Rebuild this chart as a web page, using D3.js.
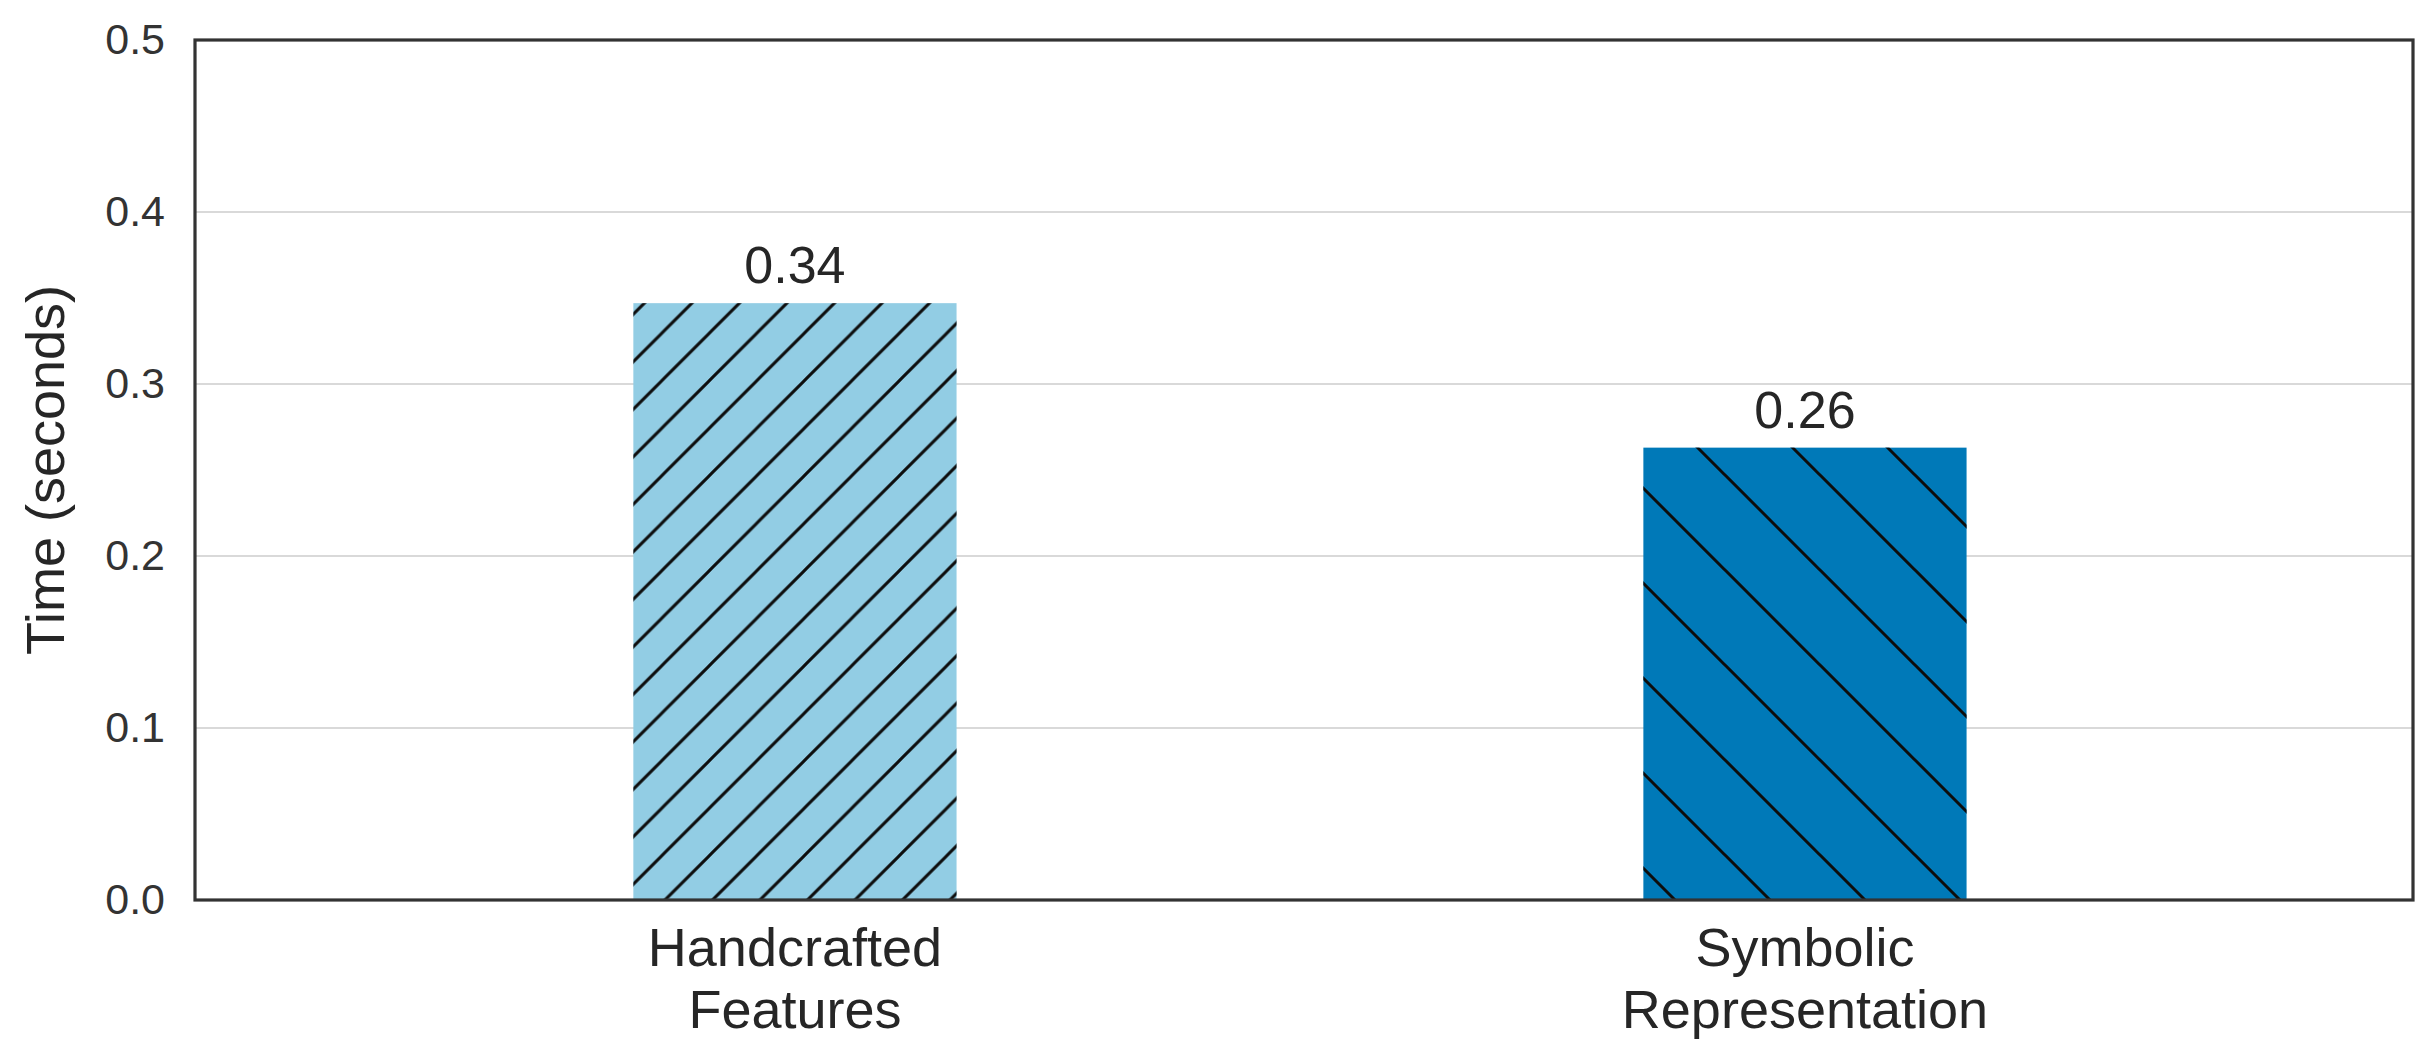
<!DOCTYPE html>
<html><head><meta charset="utf-8">
<script src="https://cdn.jsdelivr.net/npm/d3@7"></script>
<style>body{margin:0;background:#fff;} svg{display:block;font-family:"Liberation Sans",Arial,sans-serif;}</style>
</head><body>
<script>
const categories = [["Handcrafted","Features"],["Symbolic","Representation"]];
const values = [0.347, 0.263];
const valueLabels = ["0.34", "0.26"];
const yTicks = [0.0, 0.1, 0.2, 0.3, 0.4, 0.5];
const colors = ["#92cde4", "#0079b8"];

const W = 2431, H = 1055;
const m = {left:195, right:2413, top:40, bottom:900};
const svg = d3.select("body").append("svg").attr("width",W).attr("height",H);

const x = d3.scaleLinear().domain([-0.594,1.602]).range([m.left,m.right]);
const y = d3.scaleLinear().domain([0,0.5]).range([m.bottom,m.top]);
const barW = 0.32;

const defs = svg.append("defs");
// hatch patterns
const s1 = 47.5;
defs.append("pattern").attr("id","h0").attr("patternUnits","userSpaceOnUse")
  .attr("width",s1).attr("height",s1).attr("x",45)
  .append("path").attr("d",`M-2,2 L2,-2 M0,${s1} L${s1},0 M${s1-2},${s1+2} L${s1+2},${s1-2}`)
  .attr("stroke","#0d0d0d").attr("stroke-width",3);
const s2 = 95;
defs.append("pattern").attr("id","h1").attr("patternUnits","userSpaceOnUse")
  .attr("width",s2).attr("height",s2).attr("x",15)
  .append("path").attr("d",`M-2,-2 L${s2+2},${s2+2} M${s2-2},-2 L${s2+2},2 M-2,${s2-2} L2,${s2+2}`)
  .attr("stroke","#0d0d0d").attr("stroke-width",3);

// gridlines
svg.append("g").selectAll("line").data(yTicks.slice(1,-1)).join("line")
  .attr("x1",m.left).attr("x2",m.right)
  .attr("y1",d=>y(d)).attr("y2",d=>y(d))
  .attr("stroke","#d9d9d9").attr("stroke-width",2);

// bars
const bars = svg.append("g");
values.forEach((v,i)=>{
  const x0 = x(i-barW/2), x1 = x(i+barW/2);
  bars.append("rect").attr("x",x0).attr("y",y(v)).attr("width",x1-x0).attr("height",y(0)-y(v))
    .attr("fill",colors[i]);
  bars.append("rect").attr("x",x0).attr("y",y(v)).attr("width",x1-x0).attr("height",y(0)-y(v))
    .attr("fill",`url(#h${i})`);
  svg.append("text").attr("x",x(i)).attr("y",y(v)-20).attr("text-anchor","middle")
    .attr("font-size",52).attr("fill","#262626").text(valueLabels[i]);
});

// frame
svg.append("rect").attr("x",m.left).attr("y",m.top).attr("width",m.right-m.left).attr("height",m.bottom-m.top)
  .attr("fill","none").attr("stroke","#333").attr("stroke-width",3.2);

// y axis tick labels
const yAxis = d3.axisLeft(y).tickValues(yTicks).tickFormat(d3.format(".1f")).tickSize(0).tickPadding(30);
const gy = svg.append("g").attr("transform",`translate(${m.left},0)`).call(yAxis);
gy.select(".domain").remove();
gy.selectAll("text").attr("font-size",43).attr("fill","#333").attr("font-family","Liberation Sans, Arial, sans-serif");

// x axis labels
categories.forEach((lines,i)=>{
  const t = svg.append("text").attr("text-anchor","middle").attr("font-size",54).attr("fill","#262626");
  lines.forEach((ln,j)=>{
    t.append("tspan").attr("x",x(i)).attr("y",966+j*62).text(ln);
  });
});

// y title
svg.append("text").attr("transform",`translate(64,${(m.top+m.bottom)/2}) rotate(-90)`)
  .attr("text-anchor","middle").attr("font-size",54).attr("fill","#262626").text("Time (seconds)");
</script>
</body></html>
